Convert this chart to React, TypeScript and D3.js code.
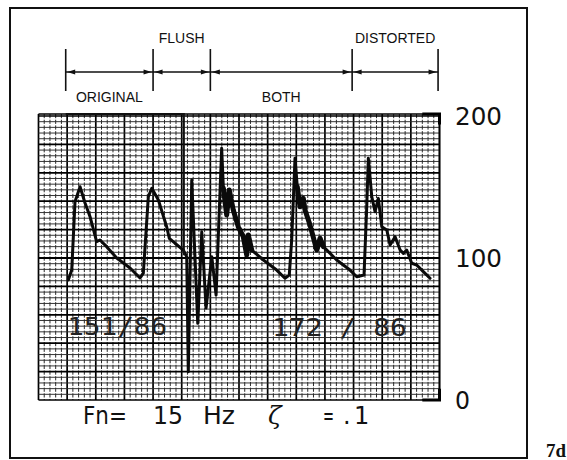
import React from 'react';
import * as d3 from 'd3';

// Waveform: time (s) and pressure (mmHg)
const timeS = [0.208, 0.232, 0.255, 0.29, 0.325, 0.36, 0.406, 0.429, 0.476, 0.546, 0.639, 0.709, 0.732, 0.767, 0.791, 0.837, 0.895, 0.913, 0.953, 1.011, 1.035, 1.046, 1.07, 1.112, 1.14, 1.17, 1.21, 1.24, 1.279, 1.291, 1.314, 1.332, 1.36, 1.395, 1.43, 1.454, 1.465, 1.489, 1.57, 1.663, 1.721, 1.751, 1.768, 1.791, 1.807, 1.826, 1.849, 1.861, 1.896, 1.943, 1.966, 1.989, 2.082, 2.175, 2.222, 2.273, 2.292, 2.303, 2.327, 2.35, 2.373, 2.397, 2.432, 2.455, 2.49, 2.525, 2.548, 2.571, 2.606, 2.641, 2.687, 2.734];
const pressure = [84.5, 91.5, 139.6, 150.2, 138.7, 129.1, 111.5, 112.7, 108.0, 100.0, 93.0, 85.9, 89.4, 143.2, 149.1, 140.8, 122.0, 113.9, 110.4, 105.6, 100.9, 19.9, 154.9, 54.0, 118.5, 64.8, 100.9, 73.9, 177.3, 149.1, 130.3, 147.9, 133.8, 122.0, 115.0, 102.1, 116.2, 105.6, 98.6, 91.5, 85.7, 88.0, 112.7, 170.2, 150.2, 136.1, 142.0, 133.8, 123.2, 105.6, 113.9, 108.0, 98.6, 91.5, 86.8, 88.0, 136.1, 170.2, 143.2, 132.6, 142.0, 122.0, 119.7, 109.2, 115.0, 105.6, 103.3, 105.6, 96.3, 95.1, 90.4, 85.7];
// time ranges where the trace is recorded as a heavy, noisy band
const heavyRanges = [[1.285, 1.49], [1.8, 1.99]];

const segmentBounds = [0.19, 0.8, 1.2, 2.19, 2.79];
const segmentLabels = ['ORIGINAL', 'FLUSH', 'BOTH', 'DISTORTED'];
const labelAbove = [false, true, false, true];
const yTicks = [0, 100, 200];
const readings = ['151/86', '172 / 86'];
const readingTimes = [0.2, 1.63];
const flushMarkTime = 1.015;

const W = 567;
const H = 460;

export default function App() {
  const x = d3.scaleLinear().domain([0, 2.8]).range([38.5, 439.5]);
  const y = d3.scaleLinear().domain([0, 200]).range([400, 116]);

  const minorX = d3.range(0, 71).map((k) => k * 0.04);
  const minorY = d3.range(0, 51).map((k) => k * 4);

  const pts = timeS.map((t, i) => [t, pressure[i]] as [number, number]);
  const line = d3
    .line<[number, number]>()
    .x((d) => x(d[0]))
    .y((d) => y(d[1]))
    .curve(d3.curveLinear);

  const arrowY = 72;
  const arrowHead = (xTip: number, dir: number, key: string) => (
    <path
      key={key}
      d={`M${xTip},${arrowY} L${xTip + dir * 8},${arrowY - 2.6} L${xTip + dir * 8},${arrowY + 2.6} Z`}
      fill="#111"
    />
  );

  return (
    <svg
      width={W}
      height={H}
      style={{ position: 'absolute', left: 0, top: 0, background: '#fff' }}
      xmlns="http://www.w3.org/2000/svg"
    >
      <rect x={0} y={0} width={W} height={H} fill="#fff" />
      {/* outer frame */}
      <rect x={10} y={8} width={517} height={450} fill="none" stroke="#111" strokeWidth={2} />

      {/* grid */}
      <g>
        {minorX.map((t, i) => (
          <line
            key={'vx' + i}
            x1={x(t)}
            x2={x(t)}
            y1={y(201.4)}
            y2={y(0)}
            stroke={i % 5 === 0 ? '#000' : '#2a2a2a'}
            strokeWidth={i % 5 === 0 ? 1.7 : 1}
            strokeDasharray={i % 5 === 0 ? undefined : '4.2 1.5'}
          />
        ))}
        {minorY.map((p, i) => (
          <line
            key={'hy' + i}
            x1={x(0)}
            x2={x(2.8)}
            y1={y(p)}
            y2={y(p)}
            stroke={i % 5 === 0 ? '#000' : '#2a2a2a'}
            strokeWidth={i % 5 === 0 ? 1.7 : 0.95}
          />
        ))}
        <line x1={x(0)} x2={x(2.8)} y1={y(201.4)} y2={y(201.4)} stroke="#000" strokeWidth={1.6} />
        <line x1={x(2.8)} x2={x(2.8)} y1={y(201.4)} y2={y(0)} stroke="#000" strokeWidth={1.6} />
        <path d={`M${x(2.68)},${y(201.4)} L${x(2.8)},${y(201.4)} L${x(2.8)},${y(194)}`} fill="none" stroke="#000" strokeWidth={3} />
        <path d={`M${x(2.68)},${y(0)} L${x(2.8)},${y(0)} L${x(2.8)},${y(8)}`} fill="none" stroke="#000" strokeWidth={3} />
        <line x1={x(0)} x2={x(2.8)} y1={y(100)} y2={y(100)} stroke="#000" strokeWidth={1.8} />
      </g>

      {/* readings inside grid */}
      <text x={x(readingTimes[0])} y={335} fontFamily="DejaVu Sans Mono" fontSize={25} fill="#222" textLength={100} lengthAdjust="spacingAndGlyphs">
        {readings[0]}
      </text>
      <text x={x(readingTimes[1])} y={336} fontFamily="DejaVu Sans Mono" fontSize={25} fill="#222" textLength={135} lengthAdjust="spacingAndGlyphs">
        {readings[1]}
      </text>

      {/* waveform */}
      <path d={line(pts) || ''} fill="none" stroke="#0a0a0a" strokeWidth={3} strokeLinejoin="round" strokeLinecap="round" />
      {heavyRanges.map((r, k) => (
        <path
          key={'heavy' + k}
          d={line(pts.filter((p) => p[0] >= r[0] && p[0] <= r[1])) || ''}
          fill="none"
          stroke="#0a0a0a"
          strokeWidth={5}
          strokeLinejoin="round"
          strokeLinecap="round"
        />
      ))}

      {/* ORIGINAL bar and flush marker */}
      <path
        d={`M${x(segmentBounds[0])},114 L${x(flushMarkTime)},114 L${x(flushMarkTime)},${y(102)}`}
        fill="none"
        stroke="#111"
        strokeWidth={2}
      />

      {/* top segment annotation */}
      <g>
        {segmentBounds.map((t, i) => (
          <line key={'tk' + i} x1={x(t)} x2={x(t)} y1={49} y2={91} stroke="#111" strokeWidth={1.6} />
        ))}
        <line x1={x(segmentBounds[0])} x2={x(segmentBounds[segmentBounds.length - 1])} y1={arrowY} y2={arrowY} stroke="#111" strokeWidth={1.3} />
        {segmentLabels.map((lab, i) => {
          const x0 = x(segmentBounds[i]);
          const x1 = x(segmentBounds[i + 1]);
          return (
            <g key={'seg' + i}>
              {arrowHead(x0 + 1.5, 1, 'a' + i)}
              {arrowHead(x1 - 1.5, -1, 'b' + i)}
              <text
                x={(x0 + x1) / 2}
                y={labelAbove[i] ? 43 : 102}
                textAnchor="middle"
                fontFamily="Liberation Sans, Arial, sans-serif"
                fontSize={14}
                fill="#111"
              >
                {lab}
              </text>
            </g>
          );
        })}
      </g>

      {/* y tick labels */}
      {yTicks.map((v) => (
        <text key={'yt' + v} x={455} y={y(v) + 9} fontFamily="DejaVu Sans" fontSize={25} fill="#111" textLength={v === 0 ? 15 : 47} lengthAdjust="spacingAndGlyphs">
          {v}
        </text>
      ))}

      {/* bottom caption */}
      <g fontFamily="DejaVu Sans" fontSize={24} fill="#111">
        <text x={83} y={424} textLength={44} lengthAdjust="spacingAndGlyphs">Fn=</text>
        <text x={153} y={424} textLength={30} lengthAdjust="spacingAndGlyphs">15</text>
        <text x={203} y={424} textLength={32} lengthAdjust="spacingAndGlyphs">Hz</text>
        <text x={323} y={424} textLength={11} lengthAdjust="spacingAndGlyphs">=</text>
        <text x={343} y={424}>.</text>
        <text x={354} y={424}>1</text>
      </g>
      <text x={268} y={424} fontFamily="DejaVu Serif" fontStyle="italic" fontSize={25} fill="#111">
        ζ
      </text>

      <text x={546} y={457} fontFamily="Liberation Serif" fontWeight="bold" fontSize={19} fill="#111">
        7d
      </text>
    </svg>
  );
}
